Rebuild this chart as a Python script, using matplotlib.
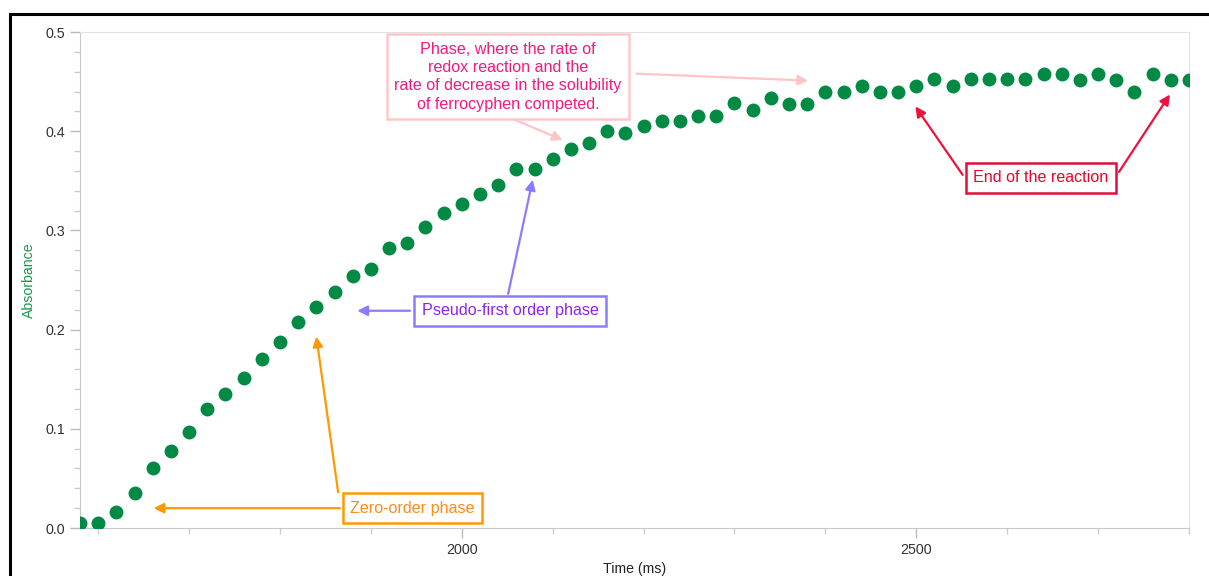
import matplotlib
matplotlib.use("Agg")
import matplotlib.pyplot as plt
from matplotlib.patches import Rectangle
from matplotlib.ticker import MultipleLocator

# time in ms, one reading every 20 ms
time_ms = list(range(1580, 2801, 20))
absorbance = [
    0.005, 0.005, 0.016, 0.035, 0.060, 0.078, 0.097, 0.120, 0.135, 0.151,
    0.170, 0.187, 0.208, 0.223, 0.238, 0.254, 0.261, 0.282, 0.287, 0.303,
    0.318, 0.327, 0.337, 0.346, 0.362, 0.362, 0.372, 0.382, 0.388, 0.400,
    0.398, 0.405, 0.410, 0.410, 0.415, 0.415, 0.428, 0.421, 0.433, 0.427,
    0.427, 0.440, 0.440, 0.446, 0.440, 0.440, 0.446, 0.453, 0.446, 0.453,
    0.453, 0.453, 0.453, 0.458, 0.458, 0.452, 0.458, 0.452, 0.440, 0.458,
    0.452, 0.452,
]
x_ticks = [2000, 2500]
y_ticks = [0.0, 0.1, 0.2, 0.3, 0.4, 0.5]

GREEN = "#008a44"

plt.rcParams.update({
    "font.family": ["Liberation Sans", "DejaVu Sans"],
    "font.size": 10,
})

fig = plt.figure(figsize=(12.09, 5.76), dpi=100)
ax = fig.add_axes([80 / 1209, 48 / 576, 1109 / 1209, 496 / 576])

ax.scatter(time_ms, absorbance, s=100, color=GREEN, linewidths=0, zorder=3)

ax.set_xlim(1580, 2800)
ax.set_ylim(0, 0.5)
ax.set_xticks(x_ticks)
ax.set_yticks(y_ticks)
ax.set_yticklabels([f"{v:.1f}" for v in y_ticks])
ax.xaxis.set_minor_locator(MultipleLocator(100))
ax.yaxis.set_minor_locator(MultipleLocator(0.02))
ax.tick_params(which="major", length=7, width=1, color="#bbbbbb", labelcolor="#333333", labelsize=10.3)
ax.tick_params(which="minor", length=4, width=1, color="#cccccc")
for side in ("left", "bottom"):
    ax.spines[side].set_color("#c8c8c8")
for side in ("top", "right"):
    ax.spines[side].set_color("#e2e2e2")

ax.set_xlabel("Time (ms)", fontsize=10.2, color="#222222", labelpad=4)
ax.set_ylabel("Absorbance", fontsize=10.2, color="#16984f", labelpad=7)


def box(x, y, text, tcolor, ecolor):
    ax.text(x, y, text, ha="center", va="center", fontsize=11.6, color=tcolor,
            linespacing=1.28, zorder=5,
            bbox=dict(boxstyle="square,pad=0.45", fc="white", ec=ecolor, lw=1.8))


def arrow(tail, head, color):
    ax.annotate("", xy=head, xytext=tail, zorder=4,
                arrowprops=dict(arrowstyle="-|>,head_length=0.6,head_width=0.3",
                                color=color, lw=1.6, shrinkA=0, shrinkB=0))


# zero-order phase
arrow((1866, 0.020), (1661, 0.020), "#ff9900")
arrow((1864, 0.036), (1840, 0.193), "#ff9900")
box(1946, 0.020, "Zero-order phase", "#ff8c1a", "#ff9900")

# pseudo-first order phase
arrow((1943, 0.219), (1885, 0.219), "#8a7cff")
arrow((2051, 0.236), (2078, 0.351), "#8a7cff")
box(2053, 0.219, "Pseudo-first order phase", "#9022ee", "#8a7cff")

# competing phase
arrow((2192, 0.458), (2381, 0.451), "#ffc4c4")
arrow((2057, 0.412), (2111, 0.391), "#ffc4c4")
box(2051, 0.455,
    "Phase, where the rate of\nredox reaction and the\nrate of decrease in the solubility\nof ferrocyphen competed.",
    "#f7187f", "#ffc8c8")

# end of the reaction
arrow((2551, 0.356), (2499, 0.425), "#f0103c")
arrow((2723, 0.359), (2779, 0.437), "#f0103c")
box(2637, 0.353, "End of the reaction", "#f0002e", "#e0103a")

# outer frame
fig.add_artist(Rectangle((9.5 / 1209, -0.2), 1.2, 1.2 - 14 / 576,
                         transform=fig.transFigure, fill=False, ec="black", lw=2.2))

fig.savefig("out.png", dpi=100)
